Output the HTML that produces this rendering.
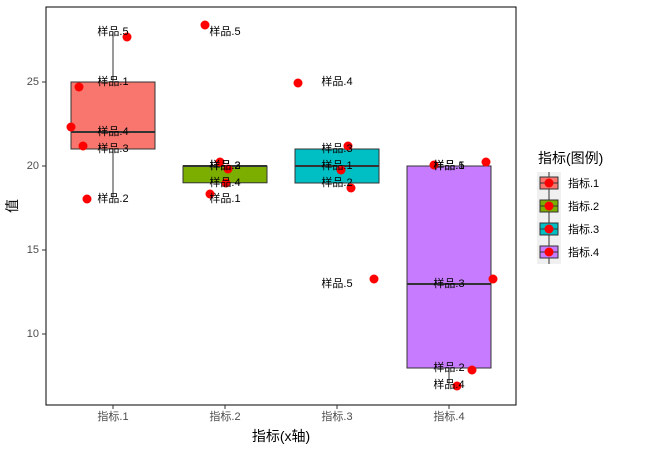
<!DOCTYPE html>
<html><head><meta charset="utf-8"><style>body{margin:0;background:#fff}</style></head><body>
<svg width="650" height="450" xmlns="http://www.w3.org/2000/svg" font-family="Liberation Sans, Noto Sans CJK SC, sans-serif">
<rect width="650" height="450" fill="#fff"/>
<g stroke="#333" stroke-width="1">
<line x1="113" y1="31.6" x2="113" y2="82"/><line x1="113" y1="149" x2="113" y2="199"/>
<rect x="71" y="82" width="84" height="67" fill="#F8766D"/>
<line x1="71" y1="132" x2="155" y2="132" stroke-width="2"/>
<rect x="183" y="166" width="84" height="16.8" fill="#7CAE00"/>
<line x1="183" y1="166" x2="267" y2="166" stroke-width="2"/>
<line x1="337" y1="149" x2="337" y2="183"/>
<rect x="295" y="149" width="84" height="34" fill="#00BFC4"/>
<line x1="295" y1="166" x2="379" y2="166" stroke-width="2"/>
<line x1="449" y1="368" x2="449" y2="385"/>
<rect x="407" y="166" width="84" height="202" fill="#C77CFF"/>
<line x1="407" y1="284" x2="491" y2="284" stroke-width="2"/>
</g>
<g fill="red">
<circle cx="127" cy="37" r="4.5"/><circle cx="79" cy="87" r="4.5"/><circle cx="71" cy="127" r="4.5"/><circle cx="83" cy="146" r="4.5"/><circle cx="87" cy="199" r="4.5"/>
<circle cx="205" cy="25" r="4.5"/><circle cx="220" cy="162" r="4.5"/><circle cx="228" cy="169" r="4.5"/><circle cx="226" cy="183" r="4.5"/><circle cx="210" cy="194" r="4.5"/>
<circle cx="298" cy="83" r="4.5"/><circle cx="348" cy="146" r="4.5"/><circle cx="341" cy="170" r="4.5"/><circle cx="351" cy="188" r="4.5"/><circle cx="374" cy="279" r="4.5"/>
<circle cx="434" cy="165" r="4.5"/><circle cx="486" cy="162" r="4.5"/><circle cx="493" cy="279" r="4.5"/><circle cx="472" cy="370" r="4.5"/><circle cx="457" cy="386" r="4.5"/>
</g>
<g font-size="11" fill="#000" text-anchor="middle" dominant-baseline="central">
<text x="113" y="32">样品.5</text><text x="113" y="82">样品.1</text><text x="113" y="132">样品.4</text><text x="113" y="149">样品.3</text><text x="113" y="199">样品.2</text>
<text x="225" y="32">样品.5</text><text x="225" y="166">样品.2</text><text x="225" y="166">样品.3</text><text x="225" y="183">样品.4</text><text x="225" y="199">样品.1</text>
<text x="337" y="82">样品.4</text><text x="337" y="149">样品.3</text><text x="337" y="166">样品.1</text><text x="337" y="183">样品.2</text><text x="337" y="284">样品.5</text>
<text x="449" y="166">样品.5</text><text x="449" y="166">样品.1</text><text x="449" y="284">样品.3</text><text x="449" y="368">样品.2</text><text x="449" y="385">样品.4</text>
</g>
<rect x="46" y="7" width="470" height="398" fill="none" stroke="#000" stroke-width="1"/>
<g stroke="#333"><line x1="42" y1="82" x2="46" y2="82"/><line x1="42" y1="166" x2="46" y2="166"/><line x1="42" y1="250" x2="46" y2="250"/><line x1="42" y1="334" x2="46" y2="334"/>
<line x1="113" y1="405" x2="113" y2="409"/><line x1="225" y1="405" x2="225" y2="409"/><line x1="337" y1="405" x2="337" y2="409"/><line x1="449" y1="405" x2="449" y2="409"/></g>
<g font-size="11" fill="#4d4d4d" text-anchor="end" dominant-baseline="central">
<text x="39" y="82">25</text><text x="39" y="166">20</text><text x="39" y="250">15</text><text x="39" y="334">10</text></g>
<g font-size="11" fill="#4d4d4d" text-anchor="middle">
<text x="113" y="420">指标.1</text><text x="225" y="420">指标.2</text><text x="337" y="420">指标.3</text><text x="449" y="420">指标.4</text></g>
<text x="281" y="441" font-size="14" text-anchor="middle">指标(x轴)</text>
<text transform="translate(17,206) rotate(-90)" font-size="14" text-anchor="middle">值</text>
<text x="538" y="163" font-size="14">指标(图例)</text>
<rect x="537" y="172" width="24" height="92" fill="#f0f0f0"/>
<g stroke="#333">
<line x1="549" y1="172" x2="549" y2="264"/>
<rect x="540" y="177" width="18" height="12" fill="#F8766D"/>
<rect x="540" y="200" width="18" height="12" fill="#7CAE00"/>
<rect x="540" y="223" width="18" height="12" fill="#00BFC4"/>
<rect x="540" y="246" width="18" height="12" fill="#C77CFF"/>
<line x1="540" y1="183" x2="558" y2="183"/><line x1="540" y1="206" x2="558" y2="206"/><line x1="540" y1="229" x2="558" y2="229"/><line x1="540" y1="252" x2="558" y2="252"/>
</g>
<g fill="red"><circle cx="549" cy="183" r="4.5"/><circle cx="549" cy="206" r="4.5"/><circle cx="549" cy="229" r="4.5"/><circle cx="549" cy="252" r="4.5"/></g>
<g font-size="11" dominant-baseline="central">
<text x="568" y="184">指标.1</text><text x="568" y="207">指标.2</text><text x="568" y="230">指标.3</text><text x="568" y="253">指标.4</text></g>
</svg>
</body></html>
